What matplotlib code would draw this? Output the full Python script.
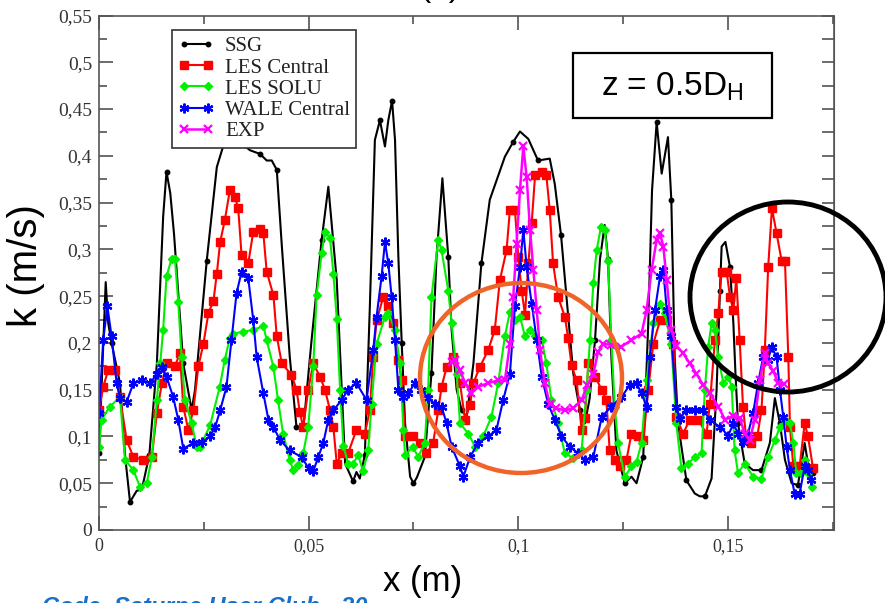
import matplotlib
matplotlib.use("Agg")
import matplotlib.pyplot as plt
from matplotlib.patches import Ellipse, Rectangle
from matplotlib.ticker import MultipleLocator, FuncFormatter

plt.rcParams["font.family"] = "Liberation Serif"
plt.rcParams["mathtext.fontset"] = "custom"
plt.rcParams["mathtext.rm"] = "Liberation Sans"

# --- data: x (m), k (m/s) ---
ssg_x = [0.0000, 0.0016, 0.0022, 0.0030, 0.0050, 0.0062, 0.0074, 0.0090, 0.0102, 0.0120,
         0.0138, 0.0153, 0.0161, 0.0170, 0.0179, 0.0201, 0.0221, 0.0229, 0.0257, 0.0281,
         0.0296, 0.0315, 0.0335, 0.0360, 0.0384, 0.0400, 0.0412, 0.0424, 0.0436, 0.0455,
         0.0471, 0.0487, 0.0507, 0.0531, 0.0547, 0.0567, 0.0579, 0.0587, 0.0600, 0.0606,
         0.0614, 0.0622, 0.0634, 0.0646, 0.0658, 0.0670, 0.0682, 0.0690, 0.0699, 0.0706,
         0.0714, 0.0722, 0.0730, 0.0742, 0.0750, 0.0758, 0.0777, 0.0793, 0.0805, 0.0819,
         0.0833, 0.0841, 0.0853, 0.0865, 0.0877, 0.0893, 0.0912, 0.0932, 0.0968, 0.0988,
         0.1004, 0.1024, 0.1047, 0.1075, 0.1087, 0.1102, 0.1115, 0.1131, 0.1147, 0.1159,
         0.1170, 0.1183, 0.1195, 0.1206, 0.1214, 0.1222, 0.1234, 0.1254, 0.1270, 0.1282,
         0.1298, 0.1310, 0.1319, 0.1330, 0.1342, 0.1357, 0.1365, 0.1373, 0.1381, 0.1401,
         0.1421, 0.1433, 0.1445, 0.1461, 0.1473, 0.1481, 0.1485, 0.1494, 0.1505, 0.1513,
         0.1518, 0.1524, 0.1540, 0.1560, 0.1580, 0.1600, 0.1612, 0.1624, 0.1636, 0.1652,
         0.1667, 0.1683, 0.1691, 0.1703]
ssg_k = [0.082, 0.265, 0.221, 0.200, 0.157, 0.080, 0.030, 0.042, 0.043, 0.080,
         0.178, 0.335, 0.383, 0.360, 0.316, 0.178, 0.128, 0.150, 0.288, 0.388,
         0.410, 0.420, 0.415, 0.406, 0.402, 0.395, 0.395, 0.385, 0.304, 0.185,
         0.110, 0.107, 0.203, 0.310, 0.367, 0.267, 0.150, 0.071, 0.058, 0.052,
         0.062, 0.055, 0.080, 0.239, 0.417, 0.438, 0.410, 0.438, 0.459, 0.417,
         0.292, 0.200, 0.114, 0.057, 0.050, 0.056, 0.078, 0.168, 0.292, 0.376,
         0.292, 0.214, 0.150, 0.128, 0.121, 0.178, 0.285, 0.353, 0.399, 0.415,
         0.426, 0.418, 0.395, 0.397, 0.370, 0.315, 0.249, 0.168, 0.128, 0.114,
         0.140, 0.203, 0.290, 0.326, 0.290, 0.185, 0.085, 0.050, 0.057, 0.050,
         0.078, 0.221, 0.363, 0.436, 0.381, 0.420, 0.353, 0.185, 0.114, 0.053,
         0.039, 0.036, 0.036, 0.055, 0.150, 0.256, 0.303, 0.308, 0.281, 0.221,
         0.167, 0.114, 0.071, 0.064, 0.064, 0.093, 0.141, 0.114, 0.075, 0.050,
         0.048, 0.093, 0.071, 0.061]

lesc_x = [0.0000, 0.0010, 0.0022, 0.0038, 0.0050, 0.0066, 0.0082, 0.0106, 0.0126, 0.0138,
          0.0150, 0.0161, 0.0181, 0.0193, 0.0201, 0.0213, 0.0225, 0.0237, 0.0249, 0.0261,
          0.0273, 0.0281, 0.0289, 0.0300, 0.0312, 0.0324, 0.0332, 0.0340, 0.0356, 0.0368,
          0.0384, 0.0392, 0.0400, 0.0416, 0.0424, 0.0436, 0.0459, 0.0471, 0.0479, 0.0487,
          0.0499, 0.0511, 0.0527, 0.0539, 0.0551, 0.0559, 0.0567, 0.0579, 0.0594, 0.0614,
          0.0634, 0.0646, 0.0654, 0.0662, 0.0678, 0.0690, 0.0702, 0.0714, 0.0722, 0.0730,
          0.0749, 0.0765, 0.0781, 0.0797, 0.0809, 0.0817, 0.0829, 0.0845, 0.0861, 0.0873,
          0.0885, 0.0893, 0.0908, 0.0928, 0.0944, 0.0956, 0.0972, 0.0980, 0.0992, 0.1000,
          0.1008, 0.1016, 0.1024, 0.1032, 0.1040, 0.1056, 0.1067, 0.1075, 0.1083, 0.1095,
          0.1111, 0.1119, 0.1127, 0.1139, 0.1151, 0.1159, 0.1167, 0.1183, 0.1199, 0.1210,
          0.1218, 0.1230, 0.1242, 0.1258, 0.1270, 0.1286, 0.1298, 0.1310, 0.1322, 0.1338,
          0.1354, 0.1370, 0.1377, 0.1393, 0.1409, 0.1429, 0.1449, 0.1457, 0.1469, 0.1477,
          0.1485, 0.1497, 0.1505, 0.1513, 0.1520, 0.1528, 0.1536, 0.1544, 0.1556, 0.1570,
          0.1580, 0.1588, 0.1596, 0.1605, 0.1616, 0.1628, 0.1636, 0.1644, 0.1648, 0.1656,
          0.1671, 0.1683, 0.1691, 0.1703]
lesc_k = [0.128, 0.153, 0.171, 0.171, 0.142, 0.096, 0.078, 0.075, 0.078, 0.125,
          0.157, 0.178, 0.175, 0.189, 0.132, 0.107, 0.128, 0.175, 0.199, 0.232,
          0.245, 0.274, 0.308, 0.331, 0.363, 0.356, 0.344, 0.294, 0.285, 0.319,
          0.322, 0.317, 0.276, 0.251, 0.207, 0.178, 0.166, 0.150, 0.126, 0.110,
          0.150, 0.178, 0.164, 0.150, 0.128, 0.110, 0.071, 0.082, 0.082, 0.107,
          0.103, 0.128, 0.185, 0.224, 0.249, 0.239, 0.221, 0.182, 0.160, 0.100,
          0.101, 0.093, 0.082, 0.093, 0.128, 0.153, 0.174, 0.185, 0.157, 0.118,
          0.134, 0.157, 0.174, 0.192, 0.214, 0.267, 0.299, 0.342, 0.342, 0.292,
          0.256, 0.230, 0.285, 0.328, 0.379, 0.383, 0.379, 0.342, 0.285, 0.249,
          0.228, 0.205, 0.176, 0.160, 0.107, 0.120, 0.178, 0.164, 0.150, 0.139,
          0.085, 0.075, 0.068, 0.075, 0.103, 0.100, 0.096, 0.150, 0.199, 0.224,
          0.224, 0.199, 0.121, 0.103, 0.118, 0.118, 0.103, 0.135, 0.203, 0.232,
          0.276, 0.276, 0.249, 0.235, 0.269, 0.203, 0.132, 0.096, 0.093, 0.100,
          0.128, 0.192, 0.281, 0.344, 0.317, 0.288, 0.288, 0.185, 0.110, 0.068,
          0.068, 0.114, 0.100, 0.066]

solu_x = [0.0000, 0.0006, 0.0026, 0.0050, 0.0062, 0.0082, 0.0098, 0.0114, 0.0126, 0.0138,
          0.0146, 0.0153, 0.0161, 0.0173, 0.0181, 0.0189, 0.0197, 0.0205, 0.0221, 0.0233,
          0.0241, 0.0265, 0.0288, 0.0300, 0.0312, 0.0320, 0.0344, 0.0368, 0.0392, 0.0400,
          0.0416, 0.0427, 0.0439, 0.0455, 0.0463, 0.0475, 0.0487, 0.0499, 0.0511, 0.0519,
          0.0531, 0.0539, 0.0551, 0.0559, 0.0567, 0.0575, 0.0583, 0.0594, 0.0606, 0.0618,
          0.0630, 0.0642, 0.0650, 0.0662, 0.0682, 0.0690, 0.0706, 0.0718, 0.0726, 0.0730,
          0.0749, 0.0761, 0.0777, 0.0785, 0.0793, 0.0809, 0.0817, 0.0833, 0.0841, 0.0853,
          0.0861, 0.0881, 0.0897, 0.0916, 0.0936, 0.0952, 0.0968, 0.0980, 0.0992, 0.1004,
          0.1016, 0.1028, 0.1040, 0.1056, 0.1067, 0.1079, 0.1095, 0.1111, 0.1131, 0.1151,
          0.1163, 0.1171, 0.1179, 0.1187, 0.1197, 0.1206, 0.1214, 0.1222, 0.1230, 0.1238,
          0.1254, 0.1270, 0.1282, 0.1294, 0.1306, 0.1322, 0.1338, 0.1349, 0.1365, 0.1377,
          0.1389, 0.1405, 0.1421, 0.1437, 0.1445, 0.1453, 0.1461, 0.1469, 0.1477, 0.1489,
          0.1501, 0.1509, 0.1516, 0.1524, 0.1540, 0.1560, 0.1580, 0.1596, 0.1612, 0.1624,
          0.1636, 0.1648, 0.1656, 0.1663, 0.1675, 0.1683, 0.1691, 0.1701]
solu_k = [0.089, 0.118, 0.132, 0.142, 0.075, 0.064, 0.046, 0.050, 0.078, 0.139,
          0.178, 0.214, 0.271, 0.290, 0.290, 0.244, 0.185, 0.139, 0.114, 0.089,
          0.089, 0.112, 0.153, 0.182, 0.205, 0.210, 0.212, 0.214, 0.218, 0.203,
          0.174, 0.139, 0.103, 0.075, 0.064, 0.070, 0.082, 0.110, 0.175, 0.251,
          0.296, 0.319, 0.312, 0.274, 0.226, 0.150, 0.090, 0.071, 0.071, 0.080,
          0.063, 0.085, 0.135, 0.199, 0.228, 0.232, 0.214, 0.178, 0.107, 0.080,
          0.089, 0.078, 0.093, 0.150, 0.249, 0.310, 0.299, 0.256, 0.221, 0.167,
          0.114, 0.103, 0.089, 0.100, 0.121, 0.157, 0.207, 0.233, 0.224, 0.228,
          0.207, 0.214, 0.207, 0.203, 0.178, 0.139, 0.114, 0.082, 0.077, 0.085,
          0.150, 0.203, 0.264, 0.299, 0.324, 0.321, 0.288, 0.203, 0.132, 0.093,
          0.057, 0.068, 0.073, 0.093, 0.160, 0.221, 0.242, 0.232, 0.199, 0.114,
          0.066, 0.071, 0.078, 0.082, 0.150, 0.196, 0.221, 0.214, 0.185, 0.157,
          0.164, 0.153, 0.085, 0.061, 0.071, 0.057, 0.055, 0.078, 0.096, 0.110,
          0.118, 0.114, 0.093, 0.061, 0.061, 0.075, 0.061, 0.046]

wale_x = [0.0000, 0.0010, 0.0020, 0.0030, 0.0042, 0.0050, 0.0066, 0.0082, 0.0102, 0.0122,
          0.0138, 0.0150, 0.0161, 0.0177, 0.0189, 0.0201, 0.0225, 0.0245, 0.0265, 0.0277,
          0.0289, 0.0304, 0.0316, 0.0328, 0.0340, 0.0356, 0.0368, 0.0376, 0.0392, 0.0404,
          0.0416, 0.0432, 0.0455, 0.0483, 0.0500, 0.0511, 0.0523, 0.0535, 0.0547, 0.0559,
          0.0579, 0.0594, 0.0614, 0.0638, 0.0654, 0.0662, 0.0674, 0.0682, 0.0690, 0.0698,
          0.0706, 0.0714, 0.0726, 0.0738, 0.0753, 0.0769, 0.0785, 0.0801, 0.0817, 0.0829,
          0.0841, 0.0861, 0.0869, 0.0885, 0.0904, 0.0928, 0.0948, 0.0964, 0.0980, 0.0992,
          0.1004, 0.1012, 0.1020, 0.1032, 0.1044, 0.1056, 0.1071, 0.1087, 0.1103, 0.1123,
          0.1143, 0.1159, 0.1179, 0.1199, 0.1222, 0.1246, 0.1266, 0.1282, 0.1294, 0.1306,
          0.1314, 0.1326, 0.1338, 0.1346, 0.1354, 0.1365, 0.1377, 0.1385, 0.1401, 0.1421,
          0.1441, 0.1457, 0.1481, 0.1501, 0.1513, 0.1524, 0.1536, 0.1548, 0.1560, 0.1572,
          0.1584, 0.1596, 0.1604, 0.1616, 0.1624, 0.1632, 0.1640, 0.1648, 0.1659, 0.1671,
          0.1683, 0.1691, 0.1699]
wale_k = [0.125, 0.203, 0.239, 0.207, 0.157, 0.141, 0.137, 0.157, 0.160, 0.157,
          0.167, 0.174, 0.164, 0.142, 0.118, 0.087, 0.093, 0.094, 0.100, 0.110,
          0.128, 0.153, 0.203, 0.253, 0.276, 0.269, 0.224, 0.185, 0.146, 0.118,
          0.110, 0.096, 0.085, 0.078, 0.066, 0.063, 0.078, 0.093, 0.118, 0.128,
          0.139, 0.150, 0.157, 0.139, 0.192, 0.228, 0.271, 0.308, 0.285, 0.249,
          0.203, 0.150, 0.142, 0.146, 0.157, 0.150, 0.141, 0.135, 0.132, 0.114,
          0.089, 0.068, 0.057, 0.078, 0.093, 0.100, 0.107, 0.139, 0.167, 0.239,
          0.281, 0.321, 0.281, 0.242, 0.203, 0.164, 0.135, 0.118, 0.100, 0.089,
          0.082, 0.075, 0.078, 0.121, 0.132, 0.142, 0.155, 0.157, 0.146, 0.132,
          0.185, 0.235, 0.271, 0.278, 0.235, 0.207, 0.132, 0.119, 0.128, 0.128,
          0.128, 0.118, 0.110, 0.101, 0.114, 0.103, 0.094, 0.103, 0.125, 0.157,
          0.185, 0.182, 0.196, 0.185, 0.150, 0.121, 0.089, 0.064, 0.039, 0.039,
          0.068, 0.064, 0.053]

exp_x = [0.0841, 0.0849, 0.0861, 0.0873, 0.0888, 0.0904, 0.0928, 0.0952, 0.0968, 0.0980,
         0.0988, 0.0996, 0.1004, 0.1012, 0.1020, 0.1028, 0.1036, 0.1044, 0.1052, 0.1063,
         0.1075, 0.1091, 0.1111, 0.1131, 0.1151, 0.1165, 0.1179, 0.1190, 0.1202, 0.1222,
         0.1246, 0.1270, 0.1294, 0.1306, 0.1318, 0.1330, 0.1338, 0.1346, 0.1354, 0.1365,
         0.1377, 0.1393, 0.1409, 0.1425, 0.1441, 0.1457, 0.1477, 0.1493, 0.1513, 0.1528,
         0.1540, 0.1552, 0.1564, 0.1576, 0.1588, 0.1596, 0.1608, 0.1620, 0.1634]
exp_k = [0.180, 0.182, 0.171, 0.157, 0.146, 0.153, 0.157, 0.160, 0.160, 0.199,
         0.249, 0.306, 0.363, 0.410, 0.377, 0.321, 0.278, 0.235, 0.192, 0.157,
         0.135, 0.130, 0.128, 0.130, 0.139, 0.155, 0.167, 0.190, 0.199, 0.198,
         0.196, 0.203, 0.210, 0.235, 0.278, 0.310, 0.317, 0.303, 0.267, 0.214,
         0.197, 0.189, 0.178, 0.167, 0.155, 0.146, 0.132, 0.118, 0.122, 0.120,
         0.103, 0.096, 0.118, 0.160, 0.189, 0.178, 0.170, 0.157, 0.156]

x_ticks = [0, 0.05, 0.1, 0.15]
y_ticks = [0, 0.05, 0.1, 0.15, 0.2, 0.25, 0.3, 0.35, 0.4, 0.45, 0.5, 0.55]


def comma(v, pos):
    return f"{v:g}".replace(".", ",")


fig = plt.figure(figsize=(8.85, 6.03), dpi=100)
ax = fig.add_axes([99 / 885, 1 - 530 / 603, 735 / 885, 514.5 / 603])

ax.plot(ssg_x, ssg_k, color="black", lw=1.5, marker="o", ms=3.2, markevery=3, label="SSG")
ax.plot(lesc_x, lesc_k, color="red", lw=1.5, marker="s", ms=5.5, label="LES Central")
ax.plot(solu_x, solu_k, color="#00f000", lw=1.5, marker="D", ms=4, label="LES SOLU")
ax.plot(wale_x, wale_k, color="blue", lw=1.5, marker=(6, 2, 0), ms=7, mew=1.6,
        label="WALE Central")
ax.plot(exp_x, exp_k, color="magenta", lw=1.8, marker="x", ms=5.5, mew=1.6, label="EXP")

ax.set_xlim(0, 0.1753)
ax.set_ylim(0, 0.55)
ax.set_xticks(x_ticks)
ax.set_yticks(y_ticks)
ax.xaxis.set_minor_locator(MultipleLocator(0.025))
ax.yaxis.set_minor_locator(MultipleLocator(0.025))
ax.xaxis.set_major_formatter(FuncFormatter(comma))
ax.yaxis.set_major_formatter(FuncFormatter(comma))
ax.tick_params(which="both", direction="in", top=True, right=False, colors="#444444")
ax.tick_params(which="major", length=10, width=1.1)
ax.tick_params(which="minor", length=5.8, width=1.1)
ax.tick_params(axis="y", labelsize=14, pad=5)
ax.tick_params(axis="x", labelsize=13, pad=6)
for lab in ax.get_xticklabels() + ax.get_yticklabels():
    lab.set_color("#333333")
for s in ax.spines.values():
    s.set_color("#555555")
    s.set_linewidth(1.2)

rax = ax.secondary_yaxis("right")
rax.set_yticks([i * 0.025 for i in range(23)])
rax.tick_params(direction="in", length=8.5, width=1.1, colors="#444444", labelright=False)
rax.spines["right"].set_color("#555555")

leg = ax.legend(loc="upper left", bbox_to_anchor=(0.0993, 0.971), borderaxespad=0,
                fontsize=15, labelspacing=0.08, borderpad=0.3, handlelength=1.75,
                handletextpad=0.5, numpoints=2, fancybox=False, framealpha=1)
leg.get_frame().set_edgecolor("#333333")
leg.get_frame().set_linewidth(1.2)
for t in leg.get_texts():
    t.set_color("#222222")

# annotation box
fig.patches.append(Rectangle((573 / 885, 1 - 118 / 603), 199 / 885, 65 / 603,
                             transform=fig.transFigure, fill=True, facecolor="white",
                             edgecolor="black", lw=1.6, zorder=5))
fig.text(672 / 885, 1 - 87 / 603, r"z = 0.5D$_\mathrm{H}$", family="Liberation Sans",
         fontsize=24, ha="center", va="center", zorder=6)

# highlight circles
fig.patches.append(Ellipse((521 / 885, 1 - 378 / 603), 202 / 885, 190 / 603,
                           transform=fig.transFigure, fill=False, edgecolor="#f0642a",
                           lw=3.2, zorder=7))
fig.patches.append(Ellipse((788 / 885, 1 - 297 / 603), 196 / 885, 190 / 603,
                           transform=fig.transFigure, fill=False, edgecolor="black",
                           lw=3.5, zorder=7))

fig.text(26 / 885, 1 - 266 / 603, "k (m/s)", family="Liberation Sans", fontsize=29,
         rotation=90, ha="center", va="center")
fig.text(423 / 885, 1 - 581 / 603, "x (m)", family="Liberation Sans", fontsize=25,
         ha="center", va="center")
fig.text(440 / 885, 1 + 4 / 603, "(b)", family="Liberation Sans", fontsize=24,
         ha="center", va="baseline")
fig.text(42 / 885, 1 - 613 / 603, "Code_Saturne User Club - 20", family="Liberation Sans",
         fontsize=17, fontweight="bold", fontstyle="italic", color="#1a6fc9",
         ha="left", va="baseline")

fig.savefig("out.png", dpi=100)
